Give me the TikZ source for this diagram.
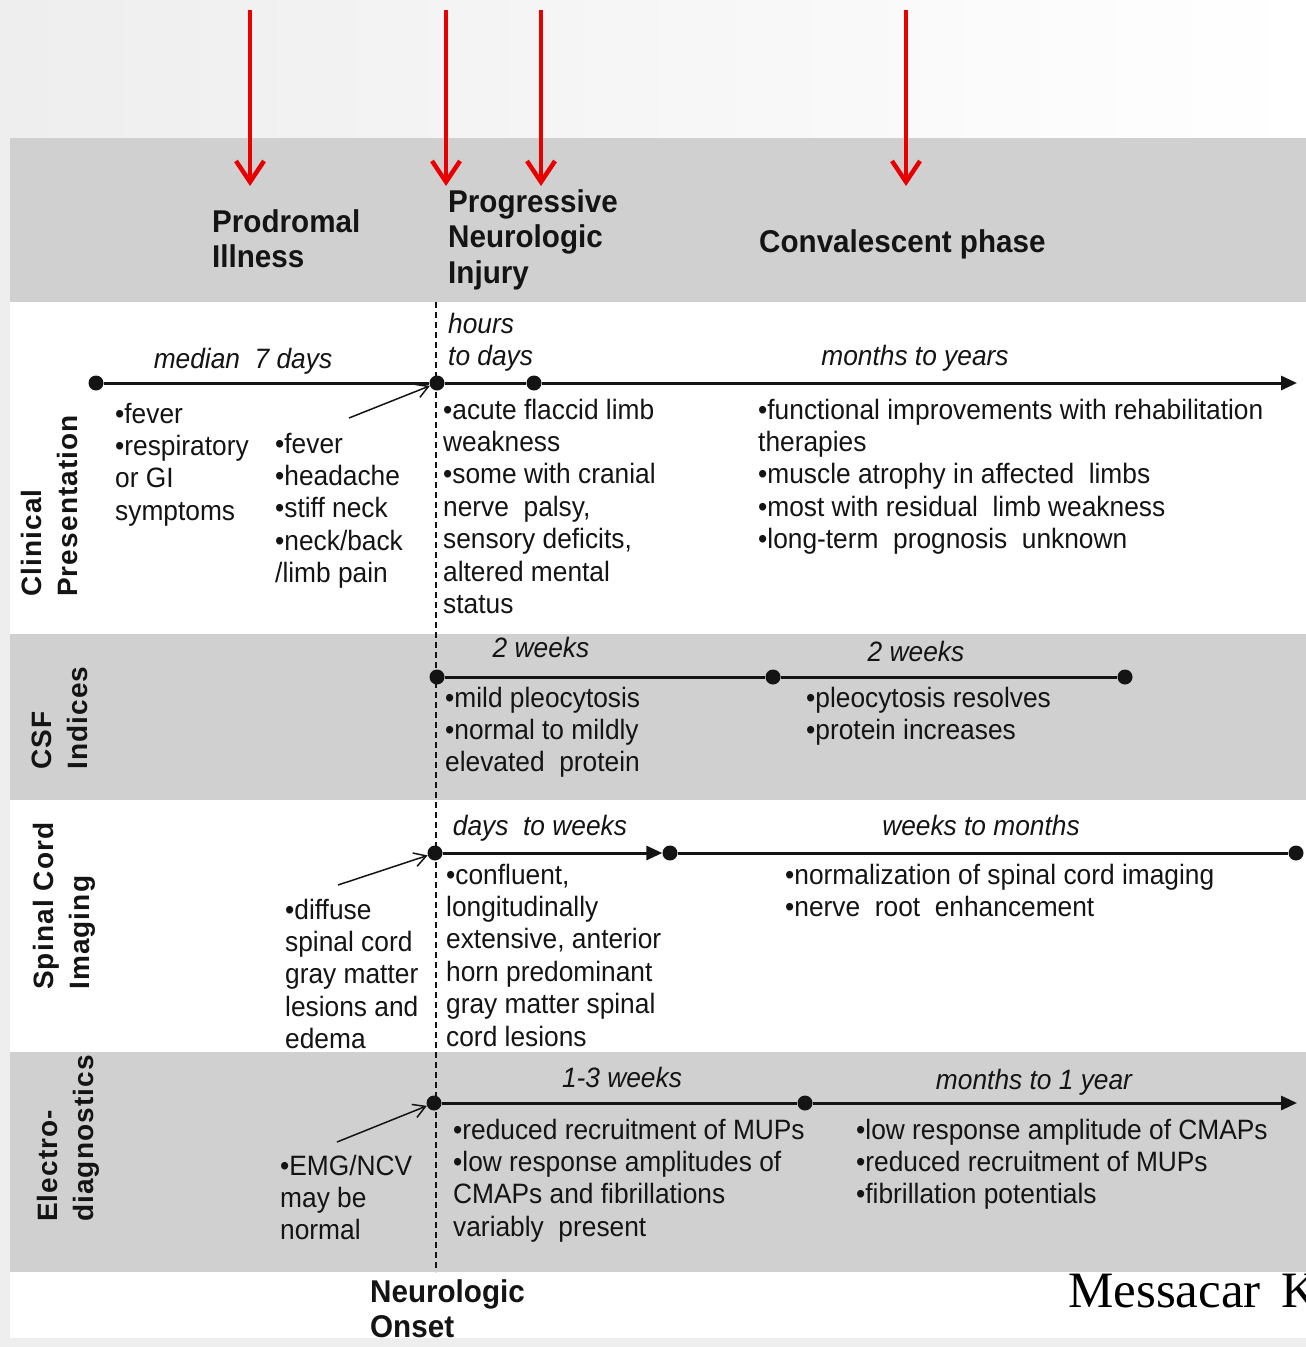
\documentclass[tikz,border=0pt]{standalone}
\usepackage{fontspec}
\setmainfont{Liberation Sans}[FakeStretch=0.94]
\newfontfamily\labfont{Liberation Sans}[LetterSpace=4]
\newfontfamily\refont{Liberation Serif}
\usetikzlibrary{arrows.meta}
\definecolor{band}{RGB}{208,208,208}
\definecolor{ink}{RGB}{20,20,20}
\definecolor{redar}{RGB}{232,0,0}
\definecolor{outer}{RGB}{238,238,238}
\tikzset{
  body/.style={anchor=base west, align=left, inner sep=0pt, text=ink, font=\fontsize{28}{32.4}\selectfont},
  ital/.style={anchor=base, inner sep=0pt, text=ink, font=\fontsize{28}{32.4}\selectfont\itshape},
  itall/.style={anchor=base west, align=left, inner sep=0pt, text=ink, font=\fontsize{28}{32.4}\selectfont\itshape},
  hdr/.style={anchor=base west, align=left, inner sep=0pt, text=ink, font=\fontsize{31.5}{35.5}\selectfont\bfseries},
  lab/.style={rotate=90, anchor=south west, align=left, inner sep=0pt, text=ink, font=\labfont\fontsize{28}{36}\selectfont\bfseries},
  dot/.style={circle, fill=ink, inner sep=0pt, minimum size=15pt},
  tl/.style={line width=3pt, draw=ink},
  tlarrow/.style={tl, -{Triangle[length=16pt,width=14pt]}},
  thinarr/.style={line width=1.5pt, draw=ink, -{Straight Barb[length=12pt,width=14pt]}},
  redarr/.style={line width=4pt, draw=redar, -{Straight Barb[length=21pt,width=28pt,line width=4.5pt]}},
  onset/.style={line width=1.5pt, draw=ink, dash pattern=on 6pt off 4pt},
}
\begin{document}
\begin{tikzpicture}[x=1pt,y=-1pt]
\useasboundingbox (0,0) rectangle (1306,1347);
\clip (0,0) rectangle (1306,1347);
% background
\fill[outer] (0,0) rectangle (1306,1347);
\shade[left color=outer, right color=white] (10,0) rectangle (1306,138);
\fill[white] (10,138) rectangle (1306,1338);
\fill[band] (10,138) rectangle (1306,302);
\fill[band] (10,634) rectangle (1306,800);
\fill[band] (10,1052) rectangle (1306,1272);

% red arrows
\coordinate (ra1) at (250,10); \coordinate (rb1) at (250,186);
\coordinate (ra2) at (446,10); \coordinate (rb2) at (446,186);
\coordinate (ra3) at (541,10); \coordinate (rb3) at (541,186);
\coordinate (ra4) at (906,10); \coordinate (rb4) at (906,186);
\draw[redarr] (ra1) -- (rb1);
\draw[redarr] (ra2) -- (rb2);
\draw[redarr] (ra3) -- (rb3);
\draw[redarr] (ra4) -- (rb4);

% header (base = baseline of last line)
\node[hdr] (prod) at (212,267.5) {Prodromal\\Illness};
\node[hdr] (prog) at (448,283) {Progressive\\Neurologic\\Injury};
\node[hdr] (conv) at (759,252) {Convalescent phase};

% onset dashed line
\coordinate (dtop) at (436,302); \coordinate (dbot) at (436,1272);
\draw[onset] (dtop) -- (dbot);

% side labels
\node[lab] (labclin) at (78,597) {Clinical\\Presentation};
\node[lab] (labcsf) at (88,770) {CSF\\Indices};
\node[lab] (labspin) at (96,990) {Spinal Cord\\Imaging};
\node[lab] (labelec) at (100,1222) {Electro-\\diagnostics};

% clinical timeline
\node[dot] (c1) at (96,383) {};
\node[dot] (c2) at (437,383) {};
\node[dot] (c3) at (534,383) {};
\coordinate (ce) at (1297,383);
\draw[tl] (c1) -- (c2);
\draw[tl] (c2) -- (c3);
\draw[tlarrow] (c3) -- (ce);
\node[ital] (cl1) at (243,368) {median\ \ 7 days};
\node[itall] (cl2) at (448,365.4) {hours\\to days};
\node[ital] (cl3) at (915,365) {months to years};
\coordinate (ca) at (349,418);
\draw[thinarr] (ca) -- (c2);
\node[body] (ct1) at (115,520.2) {•fever\\•respiratory\\or GI\\symptoms};
\node[body] (ct2) at (275,582.6) {•fever\\•headache\\•stiff neck\\•neck/back\\/limb pain};
\node[body] (ct3) at (443,613.4) {•acute flaccid limb\\weakness\\•some with cranial\\nerve\ \ palsy,\\sensory deficits,\\altered\ mental\\status};
\node[body] (ct4) at (758,548.6) {•functional improvements with rehabilitation\\therapies\\•muscle atrophy\ in affected\ \ limbs\\•most with residual\ \ limb weakness\\•long-term\ \ prognosis\ \ unknown};

% CSF timeline
\node[dot] (f1) at (437,677) {};
\node[dot] (f2) at (773,677) {};
\node[dot] (f3) at (1125,677) {};
\draw[tl] (f1) -- (f2);
\draw[tl] (f2) -- (f3);
\node[ital] (fl1) at (541,657) {2 weeks};
\node[ital] (fl2) at (916,661) {2 weeks};
\node[body] (ft1) at (445,771.8) {•mild pleocytosis\\•normal to mildly\\elevated\ \ protein};
\node[body] (ft2) at (806,739.4) {•pleocytosis resolves\\•protein increases};

% spinal timeline
\node[dot] (s1) at (435,853) {};
\node[dot] (s2) at (670,853) {};
\node[dot] (s3) at (1296,853) {};
\draw[tlarrow] (s1) -- (s2);
\draw[tl] (s2) -- (s3);
\node[ital] (sl1) at (540,835) {days\ \ to weeks};
\node[ital] (sl2) at (981,835) {weeks to months};
\coordinate (sa) at (338,885);
\draw[thinarr] (sa) -- (s1);
\node[body] (st1) at (285,1048.6) {•diffuse\\spinal cord\\gray matter\\lesions and\\edema};
\node[body] (st2) at (446,1046) {•confluent,\\longitudinally\\extensive,\ anterior\\horn\ predominant\\gray matter spinal\\cord lesions};
\node[body] (st3) at (785,916.4) {•normalization\ of spinal cord imaging\\•nerve\ \ root\ \ enhancement};

% electro timeline
\node[dot] (e1) at (434,1103) {};
\node[dot] (e2) at (805,1103) {};
\coordinate (ee) at (1297,1103);
\draw[tl] (e1) -- (e2);
\draw[tlarrow] (e2) -- (ee);
\node[ital] (el1) at (622,1087) {1-3 weeks};
\node[ital] (el2) at (1034,1089) {months to 1 year};
\coordinate (ea) at (337,1142);
\draw[thinarr] (ea) -- (e1);
\node[body] (et1) at (280,1239.8) {•EMG/NCV\\may be\\normal};
\node[body] (et2) at (453,1236.2) {•reduced recruitment\ of MUPs\\•low response amplitudes\ of\\CMAPs and fibrillations\\variably\ \ present};
\node[body] (et3) at (856,1203.8) {•low response amplitude\ of CMAPs\\•reduced recruitment\ of MUPs\\•fibrillation\ potentials};

% bottom
\node[hdr] (onsetlab) at (370,1337.5) {Neurologic\\Onset};
\node[anchor=base west, inner sep=0pt, text=black, font=\refont\fontsize{51}{56}\selectfont] (cite) at (1068,1307) {Messacar\kern 8pt\ K};
\end{tikzpicture}
\end{document}
